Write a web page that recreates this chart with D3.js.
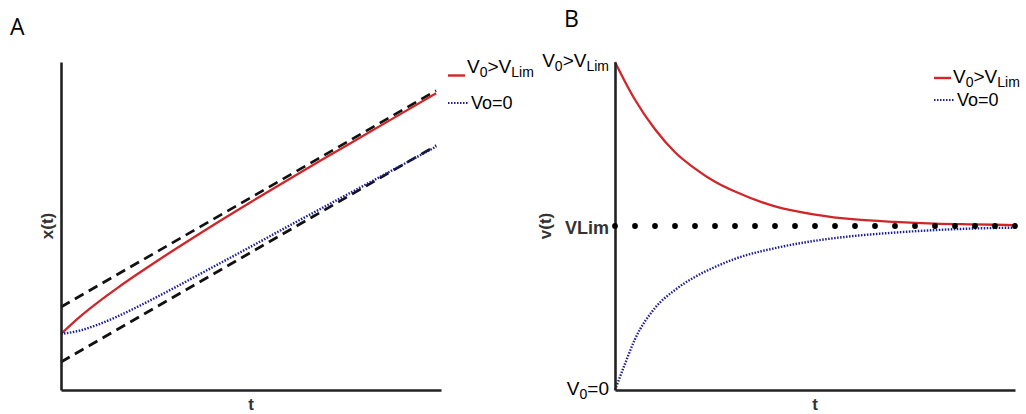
<!DOCTYPE html>
<html>
<head>
<meta charset="utf-8">
<script src="https://cdn.jsdelivr.net/npm/d3@7"></script>
<style>
  html, body { margin: 0; padding: 0; background: #fff; }
  svg { display: block; font-family: "Liberation Sans", Arial, sans-serif; }
</style>
</head>
<body>
<div id="chart"></div>
<script>
// panel A: position x(t)
const tA = [0, 0.5, 1, 1.5, 2, 2.5, 3, 4, 5, 6, 7, 8, 9, 10];
const xRedA = [2.0, 2.61, 3.145, 3.635, 4.1, 4.55, 4.985, 5.835, 6.655, 7.455, 8.245, 9.025, 9.805, 10.585];
const xBlueA = [2.0, 2.12, 2.34, 2.62, 2.94, 3.28, 3.63, 4.35, 5.07, 5.8, 6.52, 7.24, 7.96, 8.68];
const asymTimes = [0, 10];
const asymUpper = [2.96, 10.68];
const asymLower = [1.0, 8.72];

// panel B: velocity v(t), in units of VLim
const tB = [0, 0.25, 0.5, 1, 1.5, 2, 2.5, 3, 4, 5, 6, 7, 8, 9, 10];
const vRedB = [2.0, 1.88, 1.77, 1.59, 1.45, 1.35, 1.27, 1.21, 1.12, 1.07, 1.04, 1.025, 1.015, 1.01, 1.005];
const vBlueB = [0, 0.16, 0.31, 0.5, 0.61, 0.69, 0.75, 0.8, 0.865, 0.91, 0.94, 0.96, 0.975, 0.985, 0.99];
const vLim = 1;
const dotTimes = [0, 0.5, 1, 1.5, 2, 2.5, 3, 3.5, 4, 4.5, 5, 5.5, 6, 6.5, 7, 7.5, 8, 8.5, 9, 9.5, 10];
const tickValuesB = [0, 1, 2];

const RED = '#d0262a';
const BLUE = '#1e1e96';
const AXIS = '#222';
const DOTTED = '1.5,1.5';

const svg = d3.select('#chart').append('svg')
    .attr('width', 1026)
    .attr('height', 414);

// V₀>V_Lim style label with subscripts
function subLabel(sel, parts, size, subSize) {
    parts.forEach(p => {
        sel.append('tspan')
            .attr('font-size', p.sub ? subSize : size)
            .attr('dy', p.dy || 0)
            .text(p.text);
    });
    return sel;
}
const partsFast = [
    {text: 'V'}, {text: '0', sub: true, dy: 4}, {text: '>', dy: -4},
    {text: 'V'}, {text: 'Lim', sub: true, dy: 4}
];
const partsZero = [{text: 'V'}, {text: '0', sub: true, dy: 4}, {text: '=0', dy: -4}];

function legend(g, x, yRed, yBlue, redUnder) {
    g.append('line')
        .attr('x1', x).attr('x2', x + 17)
        .attr('y1', yRed).attr('y2', yRed)
        .attr('stroke', RED).attr('stroke-width', 2.4);
    subLabel(g.append('text')
        .attr('x', x + 19).attr('y', redUnder ? yRed - 3 : yRed + 5), partsFast, 19, 14);
    g.append('line')
        .attr('x1', x).attr('x2', x + 21)
        .attr('y1', yBlue).attr('y2', yBlue)
        .attr('stroke', BLUE).attr('stroke-width', 2.2)
        .attr('stroke-dasharray', DOTTED);
    g.append('text')
        .attr('x', x + 23).attr('y', yBlue + 6)
        .attr('font-size', 18)
        .text('Vo=0');
}

// ---------- panel A ----------
const xA = d3.scaleLinear().domain([0, 10.13]).range([61, 441]);
const yA = d3.scaleLinear().domain([0, 11.7]).range([390, 62]);
const gA = svg.append('g');

gA.append('text').attr('x', 10).attr('y', 35)
    .attr('font-family', '"Open Sans", sans-serif').attr('font-size', 23)
    .text('A');

const lineA = d3.line().x(d => xA(d[0])).y(d => yA(d[1])).curve(d3.curveMonotoneX);

[asymUpper, asymLower].forEach(vals => {
    gA.append('path')
        .datum(asymTimes.map((t, i) => [t, vals[i]]))
        .attr('d', lineA)
        .attr('fill', 'none')
        .attr('stroke', '#111')
        .attr('stroke-width', 2.7)
        .attr('stroke-dasharray', '10,6');
});
gA.append('path')
    .datum(tA.map((t, i) => [t, xRedA[i]]))
    .attr('d', lineA)
    .attr('fill', 'none').attr('stroke', RED).attr('stroke-width', 2.3);
gA.append('path')
    .datum(tA.map((t, i) => [t, xBlueA[i]]))
    .attr('d', lineA)
    .attr('fill', 'none').attr('stroke', BLUE).attr('stroke-width', 2.4)
    .attr('stroke-dasharray', DOTTED);

gA.append('g').attr('transform', `translate(${xA(0)},0)`)
    .call(d3.axisLeft(yA).tickValues([]).tickSizeOuter(0))
    .select('.domain').attr('stroke', AXIS).attr('stroke-width', 2.6);
gA.append('g').attr('transform', `translate(0,${yA(0)})`)
    .call(d3.axisBottom(xA).tickValues([]).tickSizeOuter(0))
    .select('.domain').attr('stroke', AXIS).attr('stroke-width', 2.6);

gA.append('text')
    .attr('transform', `translate(53,${(yA.range()[0] + yA.range()[1]) / 2}) rotate(-90)`)
    .attr('text-anchor', 'middle')
    .attr('font-weight', 'bold').attr('font-size', 17).attr('fill', '#333')
    .text('x(t)');
gA.append('text')
    .attr('x', (xA.range()[0] + xA.range()[1]) / 2).attr('y', 410)
    .attr('text-anchor', 'middle')
    .attr('font-weight', 'bold').attr('font-size', 17).attr('fill', '#333')
    .text('t');

legend(gA.append('g'), 448, 75.5, 103, true);

// ---------- panel B ----------
const xB = d3.scaleLinear().domain([0, 10]).range([615, 1015]);
const yB = d3.scaleLinear().domain([0, 2]).range([390, 62]);
const gB = svg.append('g');

gB.append('text').attr('x', 564).attr('y', 27)
    .attr('font-family', '"Open Sans", sans-serif').attr('font-size', 23)
    .text('B');

const lineB = d3.line().x(d => xB(d[0])).y(d => yB(d[1])).curve(d3.curveMonotoneX);

gB.append('path')
    .datum(tB.map((t, i) => [t, vRedB[i]]))
    .attr('d', lineB)
    .attr('fill', 'none').attr('stroke', RED).attr('stroke-width', 2.3);
gB.append('path')
    .datum(tB.map((t, i) => [t, vBlueB[i]]))
    .attr('d', lineB)
    .attr('fill', 'none').attr('stroke', BLUE).attr('stroke-width', 2.4)
    .attr('stroke-dasharray', DOTTED);

gB.append('g').attr('transform', `translate(${xB(0)},0)`)
    .call(d3.axisLeft(yB).tickValues([]).tickSizeOuter(0))
    .select('.domain').attr('stroke', AXIS).attr('stroke-width', 2.6);
gB.append('g').attr('transform', `translate(0,${yB(0)})`)
    .call(d3.axisBottom(xB).tickValues([]).tickSizeOuter(0))
    .select('.domain').attr('stroke', AXIS).attr('stroke-width', 2.6);

gB.selectAll('circle.vlim')
    .data(dotTimes)
    .join('circle')
    .attr('class', 'vlim')
    .attr('cx', d => xB(d))
    .attr('cy', yB(vLim))
    .attr('r', 2.9)
    .attr('fill', '#000');

// y tick labels: V0=0, VLim, V0>VLim
tickValuesB.forEach(v => {
    const t = gB.append('text')
        .attr('x', xB(0) - 6)
        .attr('text-anchor', 'end');
    if (v === 0) {
        subLabel(t.attr('y', yB(v) + 5), partsZero, 19, 14);
    } else if (v === vLim) {
        t.attr('y', yB(v) + 8).attr('font-weight', 'bold').attr('font-size', 18).attr('fill', '#333')
            .text('VLim');
    } else {
        subLabel(t.attr('y', yB(v) + 5), partsFast, 19, 14);
    }
});

gB.append('text')
    .attr('transform', `translate(551,${(yB.range()[0] + yB.range()[1]) / 2}) rotate(-90)`)
    .attr('text-anchor', 'middle')
    .attr('font-weight', 'bold').attr('font-size', 17).attr('fill', '#333')
    .text('v(t)');
gB.append('text')
    .attr('x', (xB.range()[0] + xB.range()[1]) / 2).attr('y', 410)
    .attr('text-anchor', 'middle')
    .attr('font-weight', 'bold').attr('font-size', 17).attr('fill', '#333')
    .text('t');

legend(gB.append('g'), 934, 78, 100, false);
</script>
</body>
</html>
